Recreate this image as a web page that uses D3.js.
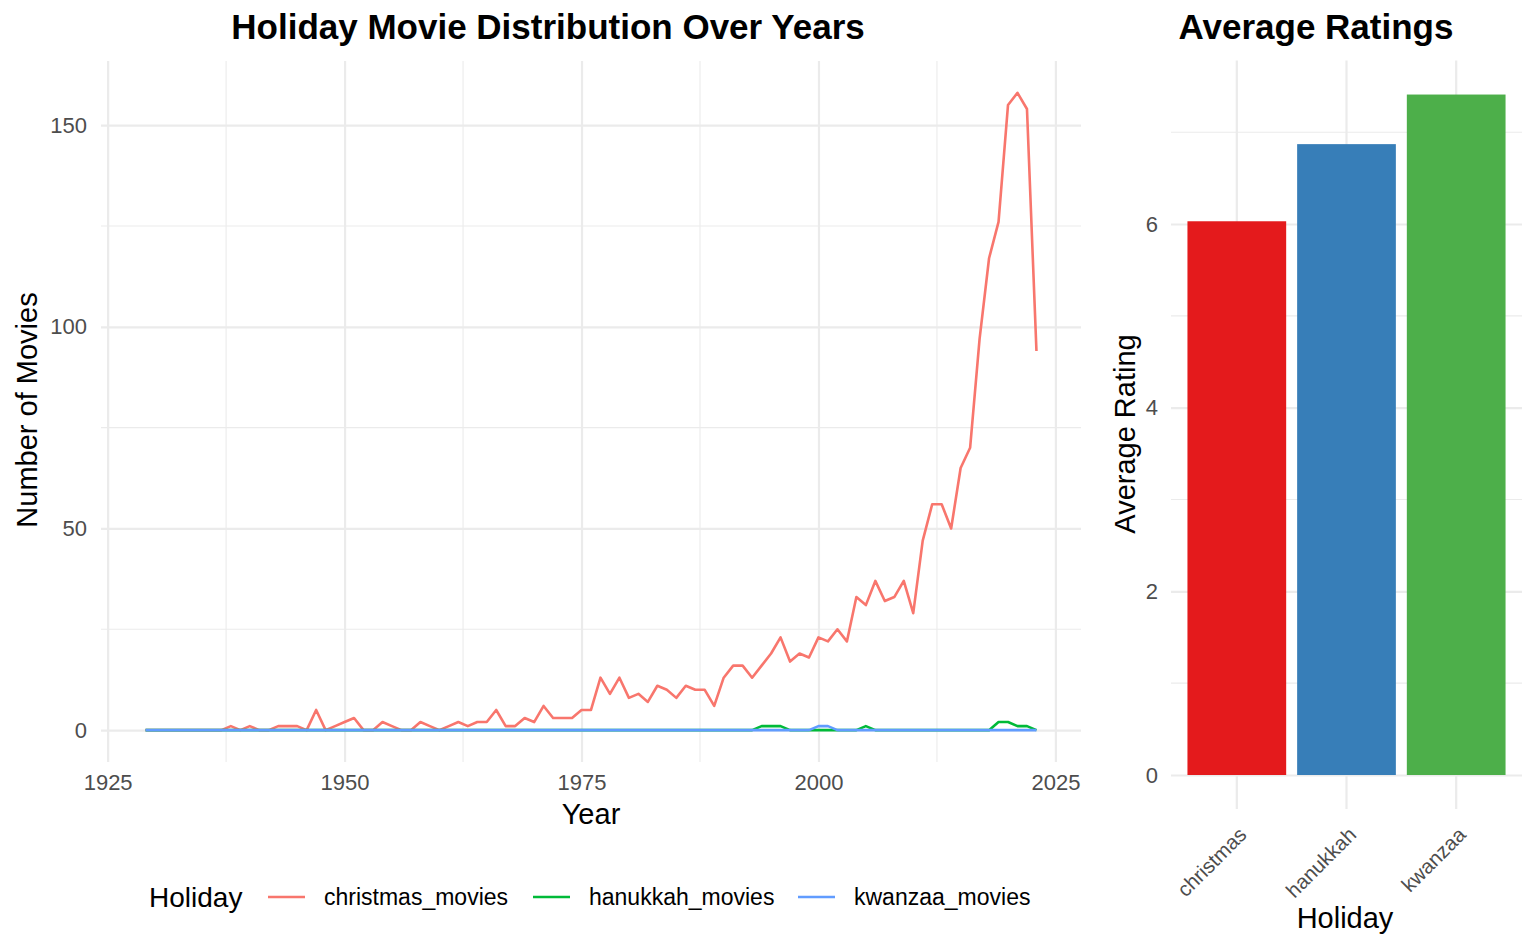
<!DOCTYPE html>
<html>
<head>
<meta charset="utf-8">
<script src="https://cdn.jsdelivr.net/npm/d3@7"></script>
<style>
  body { margin: 0; background: #fff; }
  text { font-family: "Liberation Sans", Arial, sans-serif; }
</style>
</head>
<body>
<div id="chart"></div>
<script>
// data
const years = d3.range(1929, 2024);
const christmasMovies = [
  0, 0, 0, 0, 0, 0, 0, 0, 0, 1, 0, 1, 0, 0, 1, 1, 1, 0, 5, 0, 1,   // 1929-1949
  2, 3, 0, 0, 2, 1, 0, 0, 2, 1, 0, 1, 2, 1, 2, 2, 5, 1, 1, 3, 2,   // 1950-1970
  6, 3, 3, 3, 5, 5, 13, 9, 13, 8, 9, 7, 11, 10, 8, 11, 10, 10, 6,  // 1971-1989
  13, 16, 16, 13, 16, 19, 23, 17, 19, 18,                          // 1990-1999
  23, 22, 25, 22, 33, 31, 37, 32, 33, 37,                          // 2000-2009
  29, 47, 56, 56, 50, 65, 70, 97, 117, 126,                        // 2010-2019
  155, 158, 154, 94                                                // 2020-2023
];
const hanukkahMovies = years.map(y =>
  ({1994: 1, 1995: 1, 1996: 1, 2005: 1, 2019: 2, 2020: 2, 2021: 1, 2022: 1})[y] || 0);
const kwanzaaMovies = years.map(y => ({2000: 1, 2001: 1})[y] || 0);

const seriesNames = ["christmas_movies", "hanukkah_movies", "kwanzaa_movies"];
const seriesColors = ["#F8766D", "#00BA38", "#619CFF"];

const holidays = ["christmas", "hanukkah", "kwanzaa"];
const avgRatings = [6.03, 6.87, 7.41];
const barColors = ["#E41A1C", "#377EB8", "#4DAF4A"];

const yearTicks = [1925, 1950, 1975, 2000, 2025];
const countTicks = [0, 50, 100, 150];
const ratingTicks = [0, 2, 4, 6];

const width = 1536, height = 949;
const svg = d3.select("#chart").append("svg")
  .attr("width", width)
  .attr("height", height);

const grid = "#ebebeb", tickCol = "#4d4d4d";
const tickFont = "22px";

// ---- left panel: line chart
const x = d3.scaleLinear().domain([1924.3, 2027.7]).range([101, 1081]);
const y = d3.scaleLinear().domain([-7.9, 165.9]).range([762, 61]);

const left = svg.append("g");

// minor grid
[1937.5, 1962.5, 1987.5, 2012.5].forEach(v => {
  left.append("line").attr("x1", x(v)).attr("x2", x(v)).attr("y1", 61).attr("y2", 762)
    .attr("stroke", grid).attr("stroke-width", 1.1);
});
[25, 75, 125].forEach(v => {
  left.append("line").attr("x1", 101).attr("x2", 1081).attr("y1", y(v)).attr("y2", y(v))
    .attr("stroke", grid).attr("stroke-width", 1.1);
});
// major grid via axes
left.append("g")
  .attr("transform", "translate(0,762)")
  .call(d3.axisBottom(x).tickValues(yearTicks).tickFormat(d3.format("d")).tickSize(-701).tickPadding(12))
  .call(g => g.select(".domain").remove())
  .call(g => g.selectAll("line").attr("stroke", grid).attr("stroke-width", 2.2))
  .call(g => g.selectAll("text").attr("fill", tickCol).style("font-size", tickFont));
left.append("g")
  .attr("transform", "translate(101,0)")
  .call(d3.axisLeft(y).tickValues(countTicks).tickSize(-980).tickPadding(14))
  .call(g => g.select(".domain").remove())
  .call(g => g.selectAll("line").attr("stroke", grid).attr("stroke-width", 2.2))
  .call(g => g.selectAll("text").attr("fill", tickCol).style("font-size", tickFont));

const lineGen = d3.line().x((d, i) => x(years[i])).y(d => y(d));
[christmasMovies, hanukkahMovies, kwanzaaMovies].forEach((vals, i) => {
  left.append("path")
    .datum(vals)
    .attr("d", lineGen)
    .attr("fill", "none")
    .attr("stroke", seriesColors[i])
    .attr("stroke-width", 2.6)
    .attr("stroke-linejoin", "round");
});

left.append("text").attr("x", 548).attr("y", 39).attr("text-anchor", "middle")
  .style("font-size", "35px").style("font-weight", "bold").text("Holiday Movie Distribution Over Years");
left.append("text").attr("x", 591).attr("y", 824).attr("text-anchor", "middle")
  .style("font-size", "29px").text("Year");
left.append("text").attr("transform", "translate(37,410) rotate(-90)").attr("text-anchor", "middle")
  .style("font-size", "29px").text("Number of Movies");

// legend
const legend = svg.append("g");
legend.append("text").attr("x", 149).attr("y", 907).style("font-size", "28px").text("Holiday");
const legendX = [268, 533, 798];
seriesNames.forEach((name, i) => {
  legend.append("line").attr("x1", legendX[i]).attr("x2", legendX[i] + 37)
    .attr("y1", 897).attr("y2", 897).attr("stroke", seriesColors[i]).attr("stroke-width", 2.6);
  legend.append("text").attr("x", legendX[i] + 56).attr("y", 905)
    .style("font-size", "23px").text(name);
});

// ---- right panel: bar chart
const bx = d3.scaleBand().domain(holidays).range([1171, 1522]).paddingInner(0.1).paddingOuter(0.15);
const by = d3.scaleLinear().domain([0, 7.78]).range([775, 775 - 7.78 * 91.83]);

const right = svg.append("g");
[1, 3, 5, 7].forEach(v => {
  right.append("line").attr("x1", 1171).attr("x2", 1522).attr("y1", by(v)).attr("y2", by(v))
    .attr("stroke", grid).attr("stroke-width", 1.1);
});
right.append("g")
  .attr("transform", "translate(1171,0)")
  .call(d3.axisLeft(by).tickValues(ratingTicks).tickSize(-351).tickPadding(13))
  .call(g => g.select(".domain").remove())
  .call(g => g.selectAll("line").attr("stroke", grid).attr("stroke-width", 2.2))
  .call(g => g.selectAll("text").attr("fill", tickCol).style("font-size", tickFont));
right.append("g")
  .attr("transform", "translate(0,809)")
  .call(d3.axisBottom(bx).tickSize(-(809 - by.range()[1])).tickPadding(0))
  .call(g => g.select(".domain").remove())
  .call(g => g.selectAll("line").attr("stroke", grid).attr("stroke-width", 2.2))
  .call(g => g.selectAll("text").remove());

right.selectAll("rect.bar")
  .data(avgRatings)
  .enter().append("rect")
  .attr("class", "bar")
  .attr("x", (d, i) => bx(holidays[i]))
  .attr("width", bx.bandwidth())
  .attr("y", d => by(d))
  .attr("height", d => by(0) - by(d))
  .attr("fill", (d, i) => barColors[i]);

holidays.forEach(h => {
  right.append("text")
    .attr("transform", `translate(${bx(h) + bx.bandwidth() / 2 + 11},${836}) rotate(-45)`)
    .attr("text-anchor", "end")
    .attr("fill", tickCol)
    .style("font-size", "20.5px")
    .text(h);
});

right.append("text").attr("x", 1316).attr("y", 39).attr("text-anchor", "middle")
  .style("font-size", "35px").style("font-weight", "bold").text("Average Ratings");
right.append("text").attr("x", 1345).attr("y", 928).attr("text-anchor", "middle")
  .style("font-size", "29px").text("Holiday");
right.append("text").attr("transform", "translate(1135,434) rotate(-90)").attr("text-anchor", "middle")
  .style("font-size", "29px").text("Average Rating");
</script>
</body>
</html>
